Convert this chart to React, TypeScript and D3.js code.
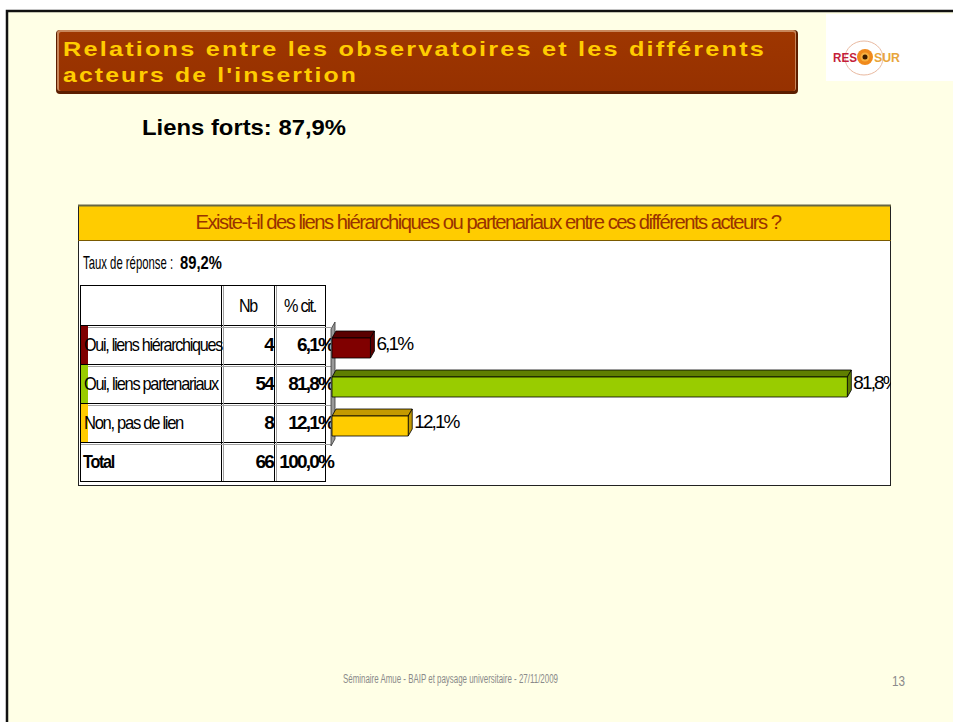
import React from "react";
import * as d3 from "d3";

// ---------- data ----------
const titleLines = ["Relations entre les observatoires et les différents", "acteurs de l'insertion"];
const strongLinksLabel = "Liens forts: ";
const strongLinks = 87.9;
const question = "Existe-t-il des liens hiérarchiques ou partenariaux entre ces différents acteurs ?";
const responseLabel = "Taux de réponse : ";
const responseRate = 89.2;
const categories = ["Oui, liens hiérarchiques", "Oui, liens partenariaux", "Non, pas de lien"];
const counts = [4, 54, 8];
const percents = [6.1, 81.8, 12.1];
const totalCount = 66;
const totalPct = 100.0;
const columnHeaders = ["Nb", "% cit."];
const totalLabel = "Total";
const footer = "Séminaire Amue - BAIP et paysage universitaire - 27/11/2009";
const pageNumber = "13";

// ---------- styles ----------
const barColors = ["#800000", "#99CC00", "#FFCC00"];
const barTopColors = ["#5A0000", "#5F7F00", "#C49A00"];
const FONT = "'Liberation Sans', Arial, Helvetica, sans-serif";
const fmt = (v: number) => d3.format(".1f")(v).replace(".", ",") + "%";

function CT(props: any) {
  const { x, y, w, anchor = "start", size = 17, weight = "normal", fill = "#000", ls, children, family = FONT, adjust = "spacingAndGlyphs" } = props;
  let xx = x;
  if (w !== undefined) {
    if (anchor === "end") xx = x - w;
    else if (anchor === "middle") xx = x - w / 2;
  }
  return (
    <text
      x={xx}
      y={y}
      fontFamily={family}
      fontSize={size}
      fontWeight={weight}
      fill={fill}
      textAnchor={w !== undefined ? "start" : anchor}
      textLength={w}
      lengthAdjust={w !== undefined ? adjust : undefined}
      style={ls !== undefined ? { letterSpacing: ls + "px" } : undefined}
    >
      {children}
    </text>
  );
}

export default function App() {
  const W = 953;
  const H = 722;

  // table geometry
  const tLeft = 80, tRight = 325, tTop = 285;
  const colNb = 221, colPct = 274;
  const headerBottom = 325;
  const rowsBottom = 442;
  const tBottom = 481;

  const y = d3.scaleBand<string>().domain(categories).range([headerBottom, rowsBottom]).paddingInner(0);
  const x = d3.scaleLinear().domain([0, 100]).range([332, 962]);
  const dx = 4, dy = 7, frontH = 20;

  const labelWidths = [138, 134, 99];

  return (
    <svg width={W} height={H} style={{ position: "absolute", left: 0, top: 0 }} xmlns="http://www.w3.org/2000/svg">
      <defs>
        <clipPath id="chartClip">
          <rect x={78} y={205} width={813} height={281} />
        </clipPath>
        <linearGradient id="titleGrad" x1="0" y1="0" x2="0" y2="1">
          <stop offset="0" stopColor="#9E3600" />
          <stop offset="1" stopColor="#963100" />
        </linearGradient>
      </defs>
      <rect x={0} y={0} width={W} height={H} fill="#fff" />
      {/* slide */}
      <rect x={7} y={11} width={W} height={H} fill="#FFFFE6" stroke="#111" strokeWidth={2.5} />

      {/* title box */}
      <rect x={56} y={30} width={742} height={64} rx={4} fill="#5C1E00" />
      <rect x={57} y={30} width={739} height={61} rx={3} fill="#C8865A" />
      <rect x={59} y={32} width={736} height={59} rx={2} fill="url(#titleGrad)" />
      <CT x={63} y={56} w={703} size={21} weight="bold" fill="#FFCC00" ls={1.8}>{titleLines[0]}</CT>
      <CT x={63} y={82} w={295} size={21} weight="bold" fill="#FFCC00" ls={1.8}>{titleLines[1]}</CT>

      {/* logo */}
      <rect x={826} y={14} width={127} height={67} fill="#FFFFFF" />
      <ellipse cx={864} cy={58} rx={19} ry={17} fill="none" stroke="#E9B9A0" strokeWidth={1} />
      <text x={833} y={62} fontFamily={FONT} fontSize={12} fontWeight="bold" fill="#C41E3A" textLength={24} lengthAdjust="spacingAndGlyphs">RES</text>
      <circle cx={865} cy={57} r={8} fill="#F08A1C" />
      <circle cx={865} cy={57} r={4.5} fill="#F6B040" />
      <circle cx={865} cy={57} r={2.5} fill="#3A1A00" />
      <text x={874} y={62} fontFamily={FONT} fontSize={12} fontWeight="bold" fill="#E8A53A" textLength={26} lengthAdjust="spacingAndGlyphs">SUR</text>

      {/* strong links */}
      <text x={142} y={135} fontFamily={FONT} fontSize={22} fontWeight="bold" fill="#000" textLength={204} lengthAdjust="spacingAndGlyphs">
        {strongLinksLabel + fmt(strongLinks)}
      </text>

      {/* chart box */}
      <rect x={78.5} y={205.5} width={812} height={280} fill="#FFFFFF" stroke="#222" strokeWidth={1} />
      <rect x={79} y={206} width={811} height={34} fill="#FFCC00" />
      <line x1={78} x2={891} y1={205.5} y2={205.5} stroke="#666644" strokeWidth={2} />
      <line x1={78} x2={891} y1={240.5} y2={240.5} stroke="#7A5A00" strokeWidth={1} />
      <CT x={488} y={229} w={585} anchor="middle" size={20} fill="#993300" ls={-1.5}>{question}</CT>

      <text transform="translate(83,269) scale(0.63,1)" fontFamily={FONT} fontSize={18} fill="#000">
        {responseLabel.trim()}
      </text>
      <text transform="translate(180,269) scale(0.82,1)" fontFamily={FONT} fontSize={18} fontWeight="bold" fill="#000">
        {fmt(responseRate)}
      </text>

      {/* table grid */}
      <g stroke="#000" strokeWidth={1} fill="none" shapeRendering="crispEdges">
        <rect x={tLeft} y={tTop} width={tRight - tLeft} height={tBottom - tTop} />
        <line x1={colNb} x2={colNb} y1={tTop} y2={tBottom} />
        <line x1={colPct} x2={colPct} y1={tTop} y2={tBottom} />
        {categories.map((c) => (
          <line key={c} x1={tLeft} x2={tRight} y1={y(c)!} y2={y(c)!} />
        ))}
        <line x1={tLeft} x2={tRight} y1={rowsBottom} y2={rowsBottom} />
      </g>
      <g stroke="#A0A0A0" strokeWidth={1} fill="none" shapeRendering="crispEdges">
        {categories.map((c) => (
          <line key={c} x1={tLeft + 1} x2={tRight + 6} y1={y(c)! + 2} y2={y(c)! + 2} />
        ))}
        <line x1={tLeft + 1} x2={tRight + 6} y1={rowsBottom + 2} y2={rowsBottom + 2} />
        <line x1={colNb + 2} x2={colNb + 2} y1={tTop + 1} y2={tBottom} />
        <line x1={colPct + 2} x2={colPct + 2} y1={tTop + 1} y2={tBottom} />
      </g>

      {/* header row */}
      <CT x={248} y={312} w={18} anchor="middle" size={19} ls={-1.5}>{columnHeaders[0]}</CT>
      <CT x={300} y={312} w={32} anchor="middle" size={19} ls={-1.5}>{columnHeaders[1]}</CT>

      {/* rows */}
      {categories.map((c, i) => {
        const cy = y(c)! + y.bandwidth() / 2;
        return (
          <g key={c}>
            <rect x={81} y={y(c)! + 1} width={7} height={y.bandwidth() - 1} fill={barColors[i]} />
            <CT x={84} y={cy + 6.5} w={labelWidths[i]} size={19} ls={-1.5}>{c}</CT>
            <CT x={273} y={cy + 6.5} anchor="end" size={19} weight="bold" ls={-1.8}>{String(counts[i])}</CT>
            <CT x={333} y={cy + 6.5} anchor="end" size={19} weight="bold" ls={-1.8}>{fmt(percents[i])}</CT>
          </g>
        );
      })}
      {/* total */}
      <CT x={83} y={468} w={31} size={19} weight="bold" ls={-1.5}>{totalLabel}</CT>
      <CT x={273} y={468} anchor="end" size={19} weight="bold" ls={-1.8}>{String(totalCount)}</CT>
      <CT x={333} y={468} anchor="end" size={19} weight="bold" ls={-1.8}>{fmt(totalPct)}</CT>

      {/* bars */}
      <g clipPath="url(#chartClip)">
        <polygon
          points={`${x(0) - 1},${rowsBottom + 4} ${x(0) - 1},${headerBottom + 4} ${x(0) + dx - 1},${headerBottom - 3} ${x(0) + dx - 1},${rowsBottom - 3}`}
          fill="#9A9A9A"
          stroke="#333"
          strokeWidth={0.8}
        />
        {categories.map((c, i) => {
          const cy = y(c)! + y.bandwidth() / 2;
          const fTop = cy - 6.5;
          const fBot = fTop + frontH;
          const x0 = x(0);
          const x1 = x(percents[i]);
          return (
            <g key={c} stroke="#000" strokeWidth={0.8} strokeLinejoin="round">
              <polygon points={`${x0},${fTop} ${x1},${fTop} ${x1 + dx},${fTop - dy} ${x0 + dx},${fTop - dy}`} fill={barTopColors[i]} />
              <polygon points={`${x1},${fTop} ${x1 + dx},${fTop - dy} ${x1 + dx},${fBot - dy} ${x1},${fBot}`} fill={barTopColors[i]} />
              <rect x={x0} y={fTop} width={x1 - x0} height={frontH} fill={barColors[i]} />
            </g>
          );
        })}
        {categories.map((c, i) => {
          const cy = y(c)! + y.bandwidth() / 2;
          return (
            <CT key={c} x={x(percents[i]) + dx + 2} y={cy + 5.5} size={19} ls={-1.9}>
              {fmt(percents[i])}
            </CT>
          );
        })}
      </g>

      {/* footer */}
      <CT x={343} y={683} w={215} size={12} fill="#8A8A8A">{footer}</CT>
      <text x={892} y={686} fontFamily={FONT} fontSize={15} fill="#8A8A8A" textLength={13} lengthAdjust="spacingAndGlyphs">{pageNumber}</text>
    </svg>
  );
}
